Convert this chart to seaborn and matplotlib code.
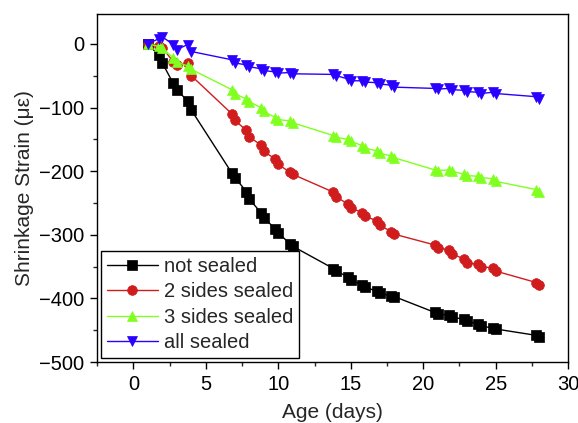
import matplotlib
matplotlib.use("Agg")
import matplotlib.pyplot as plt
import seaborn as sns
import pandas as pd
from matplotlib.ticker import MultipleLocator

days = [1, 1.75, 2, 2.75, 3, 3.75, 4, 6.8, 7, 7.8, 8, 8.8, 9, 9.8, 10, 10.8, 11,
        13.8, 14, 14.8, 15, 15.8, 16, 16.8, 17, 17.8, 18,
        20.8, 21, 21.8, 22, 22.8, 23, 23.8, 24, 24.8, 25, 27.8, 28]

not_sealed = [0, -18, -30, -62, -72, -90, -104, -203, -210, -232, -244, -265, -273,
              -291, -297, -314, -318, -353, -357, -366, -371, -379, -382, -389, -392,
              -396, -397, -422, -425, -426, -429, -433, -436, -440, -444, -446, -448,
              -458, -460]
two_sides = [0, -3, -6, -28, -33, -30, -50, -110, -120, -136, -146, -159, -169,
             -181, -189, -202, -205, -233, -240, -252, -258, -265, -271, -278, -285,
             -295, -299, -316, -320, -324, -330, -338, -344, -346, -350, -352, -357,
             -375, -379]
three_sides = [0, -4, -7, -22, -28, -35, -40, -72, -78, -87, -91, -100, -106,
               -116, -119, -121, -124, -144, -147, -150, -153, -160, -164, -168, -172,
               -176, -179, -198, -199, -198, -200, -205, -207, -208, -210, -212, -216,
               -229, -232]
all_sealed = [0, 8, 11, -1, -9, -1, -12, -25, -30, -33, -36, -39, -42,
              -44, -46, -45, -47, -48, -50, -55, -58, -58, -60, -61, -63,
              -65, -68, -70, -71, -70, -72, -73, -75, -76, -78, -76, -78,
              -83, -86]

labels = ["not sealed", "2 sides sealed", "3 sides sealed", "all sealed"]
series = [not_sealed, two_sides, three_sides, all_sealed]
colors = ["#000000", "#d01c1c", "#80ff20", "#2a00ff"]
markers = ["s", "o", "^", "v"]

sns.set_style("ticks")
plt.rcParams["font.family"] = ["Liberation Sans", "DejaVu Sans"]
plt.rcParams["font.size"] = 15

fig = plt.figure(figsize=(5.78, 4.23), dpi=100)
ax = fig.add_axes([0.168, 0.144, 0.815, 0.823])

for lab, vals, col, mk in zip(labels, series, colors, markers):
    df = pd.DataFrame({"Age": days, "Strain": vals})
    sns.lineplot(data=df, x="Age", y="Strain", ax=ax, color=col, marker=mk,
                 markersize=7, markeredgecolor=col, markeredgewidth=0.5,
                 linewidth=1.0, estimator=None, label=lab)

ax.set_xlim(-2.5, 30)
ax.set_ylim(-500, 47)
ax.xaxis.set_major_locator(MultipleLocator(5))
ax.xaxis.set_minor_locator(MultipleLocator(2.5))
ax.yaxis.set_major_locator(MultipleLocator(100))
ax.yaxis.set_minor_locator(MultipleLocator(50))
ax.tick_params(which="major", direction="out", length=5, width=1, labelsize=14.5,
               top=False, right=False, colors="black", pad=4)
ax.tick_params(which="minor", direction="out", length=3, width=1,
               top=False, right=False)
for s in ax.spines.values():
    s.set_visible(True)
    s.set_linewidth(1.0)
    s.set_color("black")

ax.set_xlabel("Age (days)", fontsize=15, labelpad=7)
ax.set_ylabel("Shrinkage Strain (\u03bc\u03b5)", fontsize=15, labelpad=4)

leg = ax.legend(loc="lower left", fontsize=14.5, frameon=True, fancybox=False,
                edgecolor="black", framealpha=1, borderaxespad=0.2,
                labelspacing=0.32, handlelength=2.5, handletextpad=0.3,
                borderpad=0.3)
leg.get_frame().set_linewidth(1.0)

fig.savefig("out.png", dpi=100)
